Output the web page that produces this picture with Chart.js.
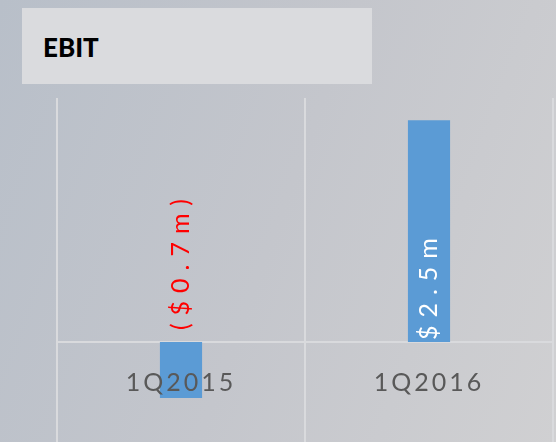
<!DOCTYPE html>
<html>
<head>
<meta charset="utf-8">
<script src="https://cdn.jsdelivr.net/npm/chart.js@4"></script>
<style>
  html, body { margin: 0; padding: 0; }
  body {
    width: 556px; height: 442px; overflow: hidden; position: relative;
    background: linear-gradient(110deg, #b8bfc9 0%, #c4c6cc 50%, #d0d0d2 100%);
  }
  #title {
    position: absolute; left: 22px; top: 8px; width: 350px; height: 76px;
    background: #dadbde;
    font-family: Lato, "Open Sans", sans-serif; font-weight: 900; font-size: 26px;
    color: #000; line-height: 78px; padding-left: 21px; box-sizing: border-box;
  }
  #wrap { position: absolute; left: 0; top: 0; width: 556px; height: 442px; }
</style>
</head>
<body>
<div id="wrap"><canvas id="bar-chart"></canvas></div>
<div id="title">EBIT</div>
<script>
var quarters = ["1Q2015", "1Q2016"];
var ebit = [-0.63, 2.5];
var ebitLabels = ["($0.7m)", "$2.5m"];
var labelColors = ["#ff0000", "#ffffff"];

var spacing = {
  id: 'spacing',
  beforeDraw: function(chart) {
    chart.ctx.letterSpacing = '3px';
  }
};

var barLabels = {
  id: 'barLabels',
  afterDatasetsDraw: function(chart) {
    var ctx = chart.ctx;
    var meta = chart.getDatasetMeta(0);
    var zero = chart.scales.y.getPixelForValue(0);
    meta.data.forEach(function(bar, i) {
      ctx.save();
      ctx.letterSpacing = '8px';
      ctx.font = '25px Lato, "Open Sans", sans-serif';
      ctx.fillStyle = labelColors[i];
      ctx.textAlign = 'left';
      ctx.textBaseline = 'middle';
      var start = ebit[i] < 0 ? zero - 12 : zero - 2;
      ctx.translate(bar.x, start);
      ctx.rotate(-Math.PI / 2);
      ctx.fillText(ebitLabels[i], 0, 0);
      ctx.restore();
    });
  }
};

new Chart(document.getElementById("bar-chart"), {
  type: 'bar',
  data: {
    labels: quarters,
    datasets: [{
      data: ebit,
      backgroundColor: '#5b9bd5',
      barPercentage: 0.17,
      categoryPercentage: 1
    }]
  },
  options: {
    responsive: true,
    maintainAspectRatio: false,
    animation: false,
    layout: { padding: { left: 57, right: 3, top: 98, bottom: 0 } },
    plugins: { legend: { display: false }, tooltip: { enabled: false } },
    scales: {
      y: { display: false, min: -1.126, max: 2.75 },
      x: {
        position: { y: 0 },
        grid: { offset: true, color: '#d9dadd', lineWidth: 2, drawTicks: false },
        border: { color: '#d9dadd', width: 2 },
        ticks: {
          z: 1,
          color: '#595959',
          padding: 26,
          font: { family: 'Lato, "Open Sans", sans-serif', size: 25 }
        }
      }
    }
  },
  plugins: [spacing, barLabels]
});
</script>
</body>
</html>
